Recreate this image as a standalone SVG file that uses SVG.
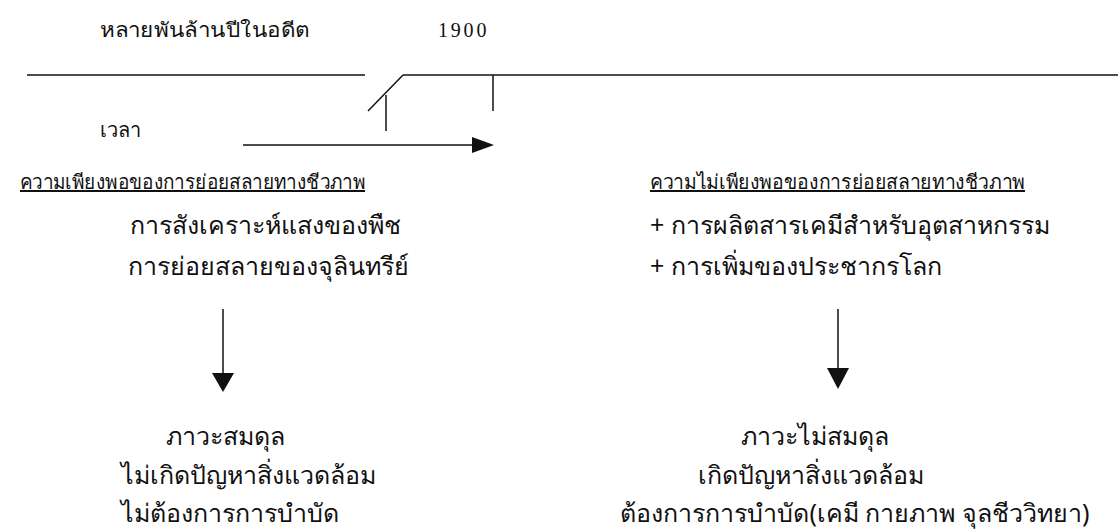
<svg xmlns="http://www.w3.org/2000/svg" width="1118" height="531" viewBox="0 0 1118 531">
<style>
.th{font-family:"Noto Sans","DejaVu Sans",sans-serif;fill:#111}
.sm{font-size:20px}
.lg{font-size:25px}
.hd{font-size:20px;text-decoration:underline}
.mid{text-anchor:middle}
.ln{stroke:#111;stroke-width:1.5;fill:none}
.hdl{fill:#111}
</style>
<rect width="1118" height="531" fill="#fff"/>
<g id="timeline">
<text class="th sm" x="100" y="37" font-size="21" textLength="210" lengthAdjust="spacingAndGlyphs">หลายพันล้านปีในอดีต</text>
<text x="438" y="37" font-family="Liberation Serif,serif" font-size="20" letter-spacing="2.8" fill="#111">1900</text>
<line class="ln" x1="27" y1="75" x2="365" y2="75"/>
<line class="ln" x1="403" y1="75" x2="1118" y2="75"/>
<line class="ln" x1="368" y1="111" x2="403" y2="75"/>
<line class="ln" x1="386" y1="95" x2="386" y2="131"/>
<line class="ln" x1="493" y1="75" x2="493" y2="111"/>
<text class="th sm" x="100" y="137">เวลา</text>
</g>
<g id="connectors">
<line class="ln" x1="243" y1="145" x2="472" y2="145"/>
<path class="hdl" d="M472,137L494,145L472,153z"/>
<line class="ln" x1="223" y1="309" x2="223" y2="375"/>
<path class="hdl" d="M212,373L234,373L223,392z"/>
<line class="ln" x1="838" y1="309" x2="838" y2="370"/>
<path class="hdl" d="M827,368L849,368L838,389z"/>
</g>
<g id="left-cause">
<text class="th hd" x="20" y="189" textLength="345" lengthAdjust="spacingAndGlyphs">ความเพียงพอของการย่อยสลายทางชีวภาพ</text>
<text class="th lg" x="130" y="234">การสังเคราะห์แสงของพืช</text>
<text class="th lg" x="128" y="275">การย่อยสลายของจุลินทรีย์</text>
</g>
<g id="right-cause">
<text class="th hd" x="650" y="189" textLength="375" lengthAdjust="spacingAndGlyphs">ความไม่เพียงพอของการย่อยสลายทางชีวภาพ</text>
<text class="th lg" x="650" y="234">+ การผลิตสารเคมีสำหรับอุตสาหกรรม</text>
<text class="th lg" x="650" y="275">+ การเพิ่มของประชากรโลก</text>
</g>
<g id="left-result">
<text class="th lg mid" x="225" y="445">ภาวะสมดุล</text>
<text class="th lg mid" x="248" y="484">ไม่เกิดปัญหาสิ่งแวดล้อม</text>
<text class="th lg mid" x="230" y="522">ไม่ต้องการการบำบัด</text>
</g>
<g id="right-result">
<text class="th lg mid" x="815" y="445">ภาวะไม่สมดุล</text>
<text class="th lg mid" x="811" y="484">เกิดปัญหาสิ่งแวดล้อม</text>
<text class="th lg mid" x="855" y="522">ต้องการการบำบัด(เคมี กายภาพ จุลชีววิทยา)</text>
</g>
</svg>
